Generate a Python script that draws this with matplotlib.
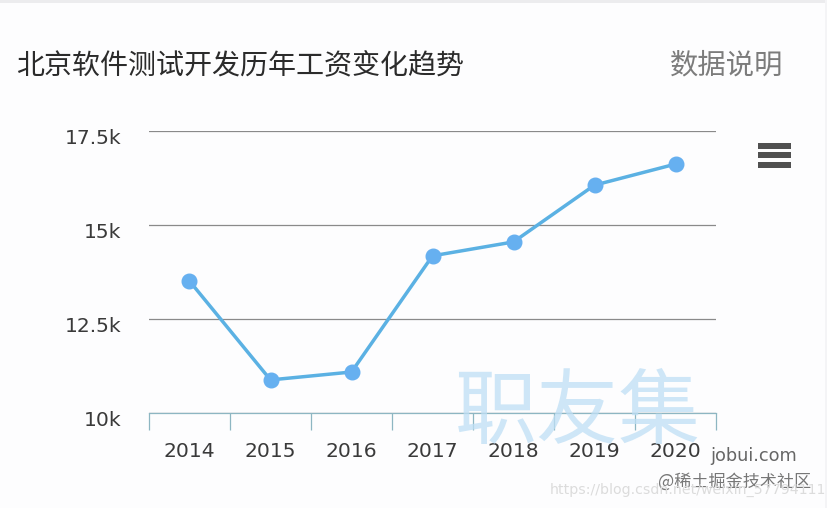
import matplotlib
matplotlib.use("Agg")
import matplotlib.pyplot as plt
from matplotlib.patches import Rectangle
from matplotlib.transforms import ScaledTranslation

years = ["2014", "2015", "2016", "2017", "2018", "2019", "2020"]
salary = [13.51, 10.88, 11.09, 14.18, 14.55, 16.06, 16.62]
y_ticks = [10, 12.5, 15, 17.5]
y_labels = ["10k", "12.5k", "15k", "17.5k"]
title = "北京软件测试开发历年工资变化趋势"
note = "数据说明"

W, H = 828, 508
CJK = ["Noto Sans CJK SC", "DejaVu Sans"]
plt.rcParams["font.family"] = CJK

fig = plt.figure(figsize=(W / 100, H / 100), dpi=100, facecolor="#fdfdfe")
ax = fig.add_axes([149 / W, (H - 413) / H, 567 / W, 282 / H])
ax.set_facecolor("none")
ax.set_xlim(-0.5, 6.5)
ax.set_ylim(10, 17.5)

for s in ["top", "left", "right"]:
    ax.spines[s].set_visible(False)
ax.spines["bottom"].set_color("#8db6c2")
ax.spines["bottom"].set_linewidth(0.9)

NUM = ["DejaVu Sans"]
ax.set_yticks(y_ticks)
ax.set_yticklabels(y_labels, family=NUM, fontsize=14.6, color="#3a3a3a")
ax.tick_params(axis="y", length=0, pad=20)
shift = ScaledTranslation(0, -5 / 100, fig.dpi_scale_trans)
for lab in ax.get_yticklabels():
    lab.set_transform(lab.get_transform() + shift)
ax.grid(axis="y", color="#8a8a8a", linewidth=0.9)
ax.set_axisbelow(True)

ax.set_xticks([i - 0.5 for i in range(len(years) + 1)])
ax.tick_params(axis="x", which="major", length=12.5, width=0.9, color="#8db6c2", labelbottom=False)
ax.set_xticks(range(len(years)), minor=True)
ax.set_xticklabels(years, minor=True, family=NUM, fontsize=14.6, color="#3a3a3a")
ax.tick_params(axis="x", which="minor", length=0, pad=20.7)

ax.plot(range(len(years)), salary, color="#5bb1e3", linewidth=2.5,
        marker="o", markersize=10.5, markerfacecolor="#66b0f0",
        markeredgecolor="#66b0f0", clip_on=False, zorder=3)

fig.text(16 / W, 1 - 66 / H, title, fontsize=20.2, color="#2b2b2b", va="center", ha="left")
fig.text(783 / W, 1 - 65 / H, note, fontsize=20.4, color="#7c7c7c", va="center", ha="right")

fig.text(578 / W, 1 - 414 / H, "职友集", fontsize=59, color="#bfdff5", alpha=0.75,
         va="center", ha="center", zorder=5)
fig.text(710 / W, 1 - 456 / H, "jobui.com", family=NUM, fontsize=12.8, color="#666666",
         va="center", ha="left")
fig.text(811 / W, 1 - 482 / H, "@稀土掘金技术社区", fontsize=12.3, color="#777777",
         va="center", ha="right")
fig.text(550 / W, 1 - 490 / H, "https://blog.csdn.net/weixin_57794111", family=NUM,
         fontsize=10.2, color="#dcdcdc", va="center", ha="left")

for y0 in (143, 152, 162):
    fig.add_artist(Rectangle((758 / W, 1 - (y0 + 6) / H), 33 / W, 6 / H,
                             transform=fig.transFigure,
                             facecolor="#505050", edgecolor="none"))
fig.add_artist(Rectangle((0, 1 - 3 / H), 1, 3 / H, transform=fig.transFigure,
                         facecolor="#ececee", edgecolor="none"))
fig.add_artist(Rectangle((1 - 3 / W, 0), 3 / W, 1, transform=fig.transFigure,
                         facecolor="#f4f4f6", edgecolor="none"))

fig.savefig("out.png", dpi=100, facecolor=fig.get_facecolor())
